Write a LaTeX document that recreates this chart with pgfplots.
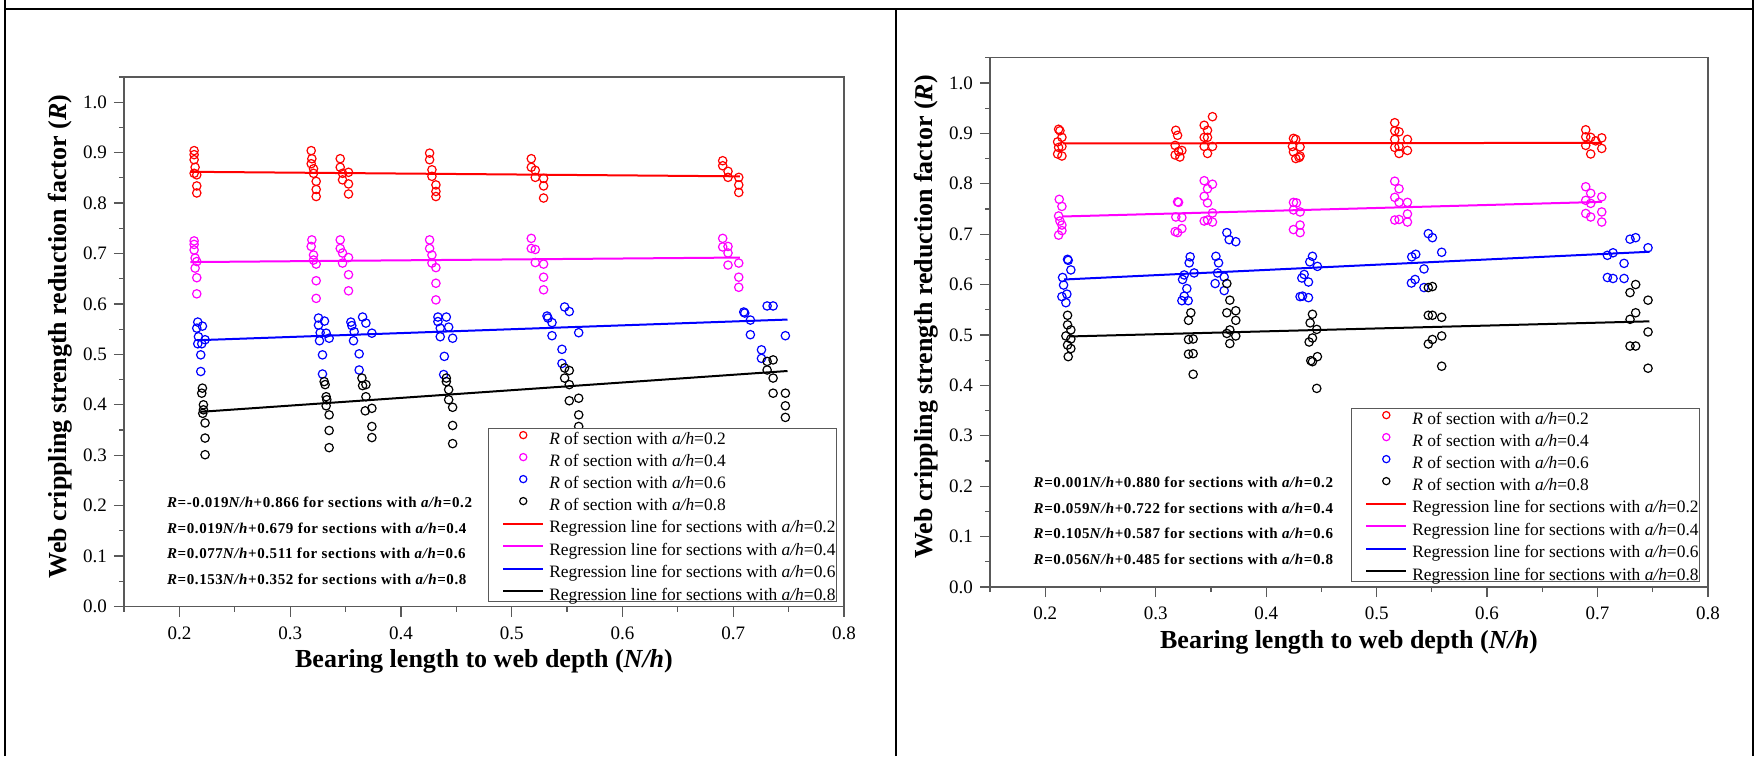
\documentclass[border=0pt]{standalone}
\usepackage{fontspec}
\setmainfont{Liberation Serif}
\newfontfamily\eqfont{Liberation Serif}[LetterSpace=4]
\usepackage{pgfplots}
\pgfplotsset{compat=1.18}
\definecolor{axisgray}{HTML}{595959}
\definecolor{cMag}{HTML}{FF00FF}

\pgfplotsset{
  panel/.style={
    scale only axis,
    xmin=0.15, xmax=0.8, ymin=0, ymax=1.05,
    xtick={0.2,0.3,0.4,0.5,0.6,0.7,0.8},
    ytick={0,0.1,0.2,0.3,0.4,0.5,0.6,0.7,0.8,0.9,1.0},
    minor xtick={0.15,0.25,0.35,0.45,0.55,0.65,0.75},
    minor ytick={0.05,0.15,0.25,0.35,0.45,0.55,0.65,0.75,0.85,0.95,1.05},
    tick align=outside, xtick pos=left, ytick pos=left,
    major tick length=5pt, minor tick length=2.5pt,
    tick style={axisgray, line width=0.6pt},
    axis line style={draw=axisgray, line width=0.6pt},
    tick label style={font=\fontsize{9.5}{10}\selectfont},
    xticklabel style={yshift=-1.5pt},
    /pgf/number format/fixed, /pgf/number format/fixed zerofill,
    /pgf/number format/precision=1, /pgf/number format/assume math mode=true,
    every axis x label/.style={at={(axis description cs:0.5,-0.104)}, anchor=center,
      font=\fontsize{13}{15}\selectfont\bfseries},
    every axis y label/.style={at={(axis description cs:-0.089,0.51)}, anchor=center, rotate=90,
      font=\fontsize{13}{15}\selectfont\bfseries},
    xlabel={Bearing length to web depth (\textit{N/h})},
    ylabel={Web crippling strength reduction factor (\textit{R})},
    legend cell align=left,
    legend image code/.code={
      \path (0pt,-1.8pt) (27pt,6.4pt);
      \draw[mark repeat=2,mark phase=2,##1,mark size=1.8pt] plot coordinates {(6.5pt,2.3pt)(16.5pt,2.3pt)(26.5pt,2.3pt)};},
    legend style={draw=axisgray, line width=0.5pt, fill=white,
      inner xsep=0.5pt, inner ysep=-1.2pt, row sep=0.25pt, column sep=2pt,
      font=\fontsize{8.7}{10}\selectfont,
      nodes={inner sep=0pt, text height=6.4pt, text depth=1.8pt}},
  },
  pts/.style={only marks, mark=o, mark size=2.1pt, mark options={line width=0.6pt}},
  reg/.style={no marks, line width=1pt},
}

\newcommand{\eq}[1]{{\eqfont\bfseries\fontsize{7.5}{9}\selectfont #1}}
\tikzset{eqn/.style={anchor=base west, inner sep=0pt}}

\begin{document}
\begin{tikzpicture}
\useasboundingbox (0,0) rectangle (877.5pt,378pt);
\draw[line width=1pt] (2.5pt,0) -- (2.5pt,378pt);
\draw[line width=1pt] (2.5pt,373.25pt) -- (876.35pt,373.25pt);
\draw[line width=1pt] (448pt,0) -- (448pt,373.25pt);
\draw[line width=1pt] (876.35pt,0) -- (876.35pt,378pt);

% left panel
\begin{axis}[panel, at={(62pt,74.75pt)}, anchor=south west, width=360pt, height=264.75pt,
  legend style={at={(axis description cs:0.9903,0.0085)}, anchor=south east}]
\addplot[pts, red] coordinates {
 (0.2133,0.904)(0.2133,0.896)(0.2133,0.886)(0.2142,0.871)(0.2133,0.859)(0.2157,0.856)(0.2157,0.834)(0.2157,0.820)
 (0.3190,0.904)(0.3196,0.888)(0.3190,0.878)(0.3211,0.859)(0.3235,0.843)(0.3235,0.827)(0.3235,0.813)(0.3211,0.868)
 (0.3452,0.888)(0.3452,0.871)(0.3473,0.859)(0.3527,0.861)(0.3473,0.846)(0.3527,0.838)(0.3527,0.818)
 (0.4259,0.899)(0.4259,0.886)(0.4280,0.866)(0.4280,0.853)(0.4316,0.836)(0.4316,0.823)(0.4316,0.813)
 (0.5177,0.888)(0.5177,0.871)(0.5213,0.865)(0.5213,0.851)(0.5288,0.849)(0.5288,0.834)(0.5288,0.810)
 (0.6905,0.884)(0.6905,0.874)(0.6953,0.863)(0.6953,0.851)(0.7050,0.851)(0.7050,0.836)(0.7050,0.821)};
\addlegendentry{\textit{R} of section with \textit{a/h}=0.2}
\addplot[pts, cMag] coordinates {
 (0.2133,0.725)(0.2133,0.718)(0.2133,0.707)(0.2142,0.691)(0.2157,0.684)(0.2142,0.671)(0.2157,0.652)(0.2157,0.620)
 (0.3196,0.727)(0.3190,0.714)(0.3211,0.697)(0.3211,0.687)(0.3235,0.679)(0.3235,0.646)(0.3235,0.611)
 (0.3452,0.727)(0.3452,0.710)(0.3473,0.701)(0.3473,0.681)(0.3527,0.692)(0.3527,0.658)(0.3527,0.626)
 (0.4259,0.727)(0.4259,0.710)(0.4280,0.697)(0.4280,0.681)(0.4316,0.672)(0.4316,0.641)(0.4316,0.608)
 (0.5177,0.730)(0.5177,0.710)(0.5213,0.708)(0.5213,0.682)(0.5288,0.679)(0.5288,0.653)(0.5288,0.628)
 (0.6905,0.730)(0.6905,0.713)(0.6953,0.714)(0.6953,0.701)(0.6953,0.677)(0.7050,0.681)(0.7050,0.653)(0.7050,0.633)};
\addlegendentry{\textit{R} of section with \textit{a/h}=0.4}
\addplot[pts, blue] coordinates {
 (0.2166,0.564)(0.2208,0.556)(0.2157,0.552)(0.2172,0.535)(0.2232,0.529)(0.2166,0.521)(0.2202,0.521)(0.2193,0.499)(0.2193,0.466)
 (0.3256,0.572)(0.3310,0.566)(0.3256,0.558)(0.3271,0.543)(0.3325,0.542)(0.3265,0.527)(0.3352,0.532)(0.3292,0.499)(0.3292,0.461)
 (0.3548,0.564)(0.3557,0.557)(0.3578,0.545)(0.3572,0.527)(0.3654,0.574)(0.3684,0.562)(0.3738,0.542)(0.3623,0.501)(0.3623,0.469)
 (0.4334,0.574)(0.4410,0.574)(0.4334,0.565)(0.4355,0.552)(0.4431,0.554)(0.4355,0.535)(0.4467,0.532)(0.4392,0.496)(0.4386,0.460)
 (0.5319,0.576)(0.5328,0.572)(0.5364,0.563)(0.5364,0.537)(0.5478,0.594)(0.5520,0.585)(0.5605,0.543)(0.5454,0.510)(0.5454,0.482)
 (0.7095,0.584)(0.7104,0.582)(0.7155,0.568)(0.7155,0.539)(0.7306,0.596)(0.7360,0.596)(0.7471,0.537)(0.7255,0.509)(0.7255,0.492)};
\addlegendentry{\textit{R} of section with \textit{a/h}=0.6}
\addplot[pts, black] coordinates {
 (0.2208,0.433)(0.2202,0.423)(0.2217,0.400)(0.2217,0.390)(0.2211,0.383)(0.2232,0.364)(0.2232,0.334)(0.2232,0.301)
 (0.3307,0.446)(0.3316,0.440)(0.3325,0.416)(0.3331,0.410)(0.3325,0.398)(0.3352,0.380)(0.3352,0.349)(0.3352,0.315)
 (0.3648,0.453)(0.3654,0.438)(0.3684,0.440)(0.3684,0.416)(0.3678,0.388)(0.3738,0.393)(0.3738,0.357)(0.3738,0.335)
 (0.4410,0.453)(0.4410,0.446)(0.4431,0.430)(0.4431,0.410)(0.4467,0.395)(0.4467,0.359)(0.4467,0.323)
 (0.5478,0.473)(0.5520,0.468)(0.5478,0.453)(0.5520,0.440)(0.5520,0.408)(0.5605,0.413)(0.5605,0.380)(0.5605,0.357)
 (0.7306,0.486)(0.7360,0.489)(0.7306,0.469)(0.7360,0.453)(0.7360,0.423)(0.7471,0.423)(0.7471,0.398)(0.7471,0.375)};
\addlegendentry{\textit{R} of section with \textit{a/h}=0.8}
\addplot[reg, red] coordinates {(0.210,0.862)(0.706,0.853)};
\addlegendentry{Regression line for sections with \textit{a/h}=0.2}
\addplot[reg, cMag] coordinates {(0.210,0.683)(0.706,0.692)};
\addlegendentry{Regression line for sections with \textit{a/h}=0.4}
\addplot[reg, blue] coordinates {(0.216,0.528)(0.749,0.569)};
\addlegendentry{Regression line for sections with \textit{a/h}=0.6}
\addplot[reg, black] coordinates {(0.219,0.386)(0.749,0.467)};
\addlegendentry{Regression line for sections with \textit{a/h}=0.8}
\node[eqn] at (rel axis cs:0.0593,0.1866) {\eq{\textit{R}=-0.019\textit{N/h}+0.866 for sections with \textit{a/h}=0.2}};
\node[eqn] at (rel axis cs:0.0593,0.1383) {\eq{\textit{R}=0.019\textit{N/h}+0.679 for sections with \textit{a/h}=0.4}};
\node[eqn] at (rel axis cs:0.0593,0.0911) {\eq{\textit{R}=0.077\textit{N/h}+0.511 for sections with \textit{a/h}=0.6}};
\node[eqn] at (rel axis cs:0.0593,0.0420) {\eq{\textit{R}=0.153\textit{N/h}+0.352 for sections with \textit{a/h}=0.8}};
\end{axis}

% right panel
\begin{axis}[panel, at={(495pt,84.5pt)}, anchor=south west, width=359pt, height=264.65pt,
  legend style={at={(axis description cs:0.9889,0.0094)}, anchor=south east}]
\addplot[pts, red] coordinates {
 (0.2121,0.908)(0.2133,0.905)(0.2151,0.892)(0.2112,0.883)(0.2151,0.874)(0.2121,0.872)(0.2112,0.859)(0.2151,0.855)
 (0.3182,0.906)(0.3198,0.896)(0.3176,0.876)(0.3207,0.864)(0.3237,0.866)(0.3176,0.857)(0.3219,0.853)
 (0.3514,0.933)(0.3439,0.916)(0.3469,0.906)(0.3439,0.892)(0.3469,0.892)(0.3439,0.874)(0.3514,0.874)(0.3469,0.860)
 (0.4247,0.890)(0.4268,0.888)(0.4238,0.874)(0.4307,0.873)(0.4247,0.863)(0.4307,0.855)(0.4268,0.850)(0.4298,0.852)
 (0.5164,0.921)(0.5164,0.905)(0.5203,0.903)(0.5164,0.888)(0.5279,0.888)(0.5203,0.874)(0.5164,0.872)(0.5279,0.866)(0.5203,0.860)
 (0.6893,0.907)(0.6938,0.892)(0.7038,0.891)(0.6893,0.893)(0.6983,0.885)(0.6893,0.876)(0.7038,0.870)(0.6938,0.859)};
\addlegendentry{\textit{R} of section with \textit{a/h}=0.2}
\addplot[pts, cMag] coordinates {
 (0.2127,0.769)(0.2151,0.755)(0.2121,0.736)(0.2133,0.726)(0.2151,0.718)(0.2151,0.707)(0.2121,0.698)
 (0.3198,0.764)(0.3207,0.763)(0.3182,0.734)(0.3237,0.733)(0.3176,0.705)(0.3198,0.703)(0.3237,0.711)
 (0.3439,0.806)(0.3514,0.799)(0.3469,0.790)(0.3439,0.775)(0.3469,0.762)(0.3514,0.742)(0.3439,0.726)(0.3514,0.724)(0.3469,0.728)
 (0.4247,0.763)(0.4274,0.762)(0.4247,0.748)(0.4307,0.744)(0.4307,0.718)(0.4247,0.709)(0.4307,0.703)
 (0.5164,0.805)(0.5203,0.790)(0.5164,0.773)(0.5203,0.763)(0.5279,0.763)(0.5279,0.740)(0.5164,0.728)(0.5203,0.729)(0.5279,0.724)
 (0.6893,0.794)(0.6938,0.781)(0.7038,0.774)(0.6893,0.767)(0.6938,0.761)(0.7038,0.744)(0.6893,0.741)(0.6938,0.734)(0.7038,0.724)};
\addlegendentry{\textit{R} of section with \textit{a/h}=0.4}
\addplot[pts, blue] coordinates {
 (0.2202,0.650)(0.2208,0.648)(0.2232,0.629)(0.2157,0.614)(0.2166,0.599)(0.2151,0.576)(0.2196,0.581)(0.2187,0.564)
 (0.3312,0.655)(0.3303,0.643)(0.3258,0.619)(0.3348,0.623)(0.3243,0.610)(0.3282,0.592)(0.3258,0.577)(0.3237,0.568)(0.3294,0.568)
 (0.3545,0.656)(0.3569,0.643)(0.3560,0.623)(0.3538,0.602)(0.3644,0.703)(0.3665,0.689)(0.3725,0.685)(0.3620,0.588)(0.3620,0.615)
 (0.4419,0.656)(0.4395,0.645)(0.4464,0.636)(0.4344,0.620)(0.4323,0.613)(0.4383,0.605)(0.4329,0.577)(0.4383,0.574)(0.4307,0.576)
 (0.5468,0.701)(0.5505,0.693)(0.5589,0.664)(0.5354,0.660)(0.5318,0.655)(0.5429,0.631)(0.5348,0.610)(0.5315,0.603)(0.5429,0.594)
 (0.7294,0.690)(0.7345,0.693)(0.7457,0.673)(0.7089,0.658)(0.7140,0.663)(0.7240,0.642)(0.7089,0.614)(0.7140,0.612)(0.7240,0.612)};
\addlegendentry{\textit{R} of section with \textit{a/h}=0.6}
\addplot[pts, black] coordinates {
 (0.2202,0.539)(0.2202,0.520)(0.2232,0.510)(0.2187,0.498)(0.2232,0.492)(0.2202,0.480)(0.2232,0.473)(0.2208,0.457)
 (0.3318,0.544)(0.3297,0.529)(0.3297,0.491)(0.3339,0.492)(0.3297,0.462)(0.3339,0.463)(0.3339,0.422)
 (0.3644,0.602)(0.3671,0.569)(0.3644,0.544)(0.3725,0.548)(0.3725,0.529)(0.3671,0.510)(0.3644,0.503)(0.3725,0.498)(0.3671,0.483)
 (0.4419,0.541)(0.4398,0.524)(0.4458,0.511)(0.4419,0.494)(0.4389,0.486)(0.4464,0.457)(0.4404,0.449)(0.4419,0.447)(0.4458,0.394)
 (0.5468,0.594)(0.5505,0.596)(0.5468,0.539)(0.5505,0.539)(0.5589,0.535)(0.5589,0.498)(0.5505,0.491)(0.5468,0.482)(0.5589,0.438)
 (0.7345,0.600)(0.7294,0.584)(0.7457,0.569)(0.7345,0.544)(0.7294,0.531)(0.7457,0.506)(0.7294,0.478)(0.7345,0.478)(0.7457,0.434)};
\addlegendentry{\textit{R} of section with \textit{a/h}=0.8}
\addplot[reg, red] coordinates {(0.216,0.880)(0.704,0.881)};
\addlegendentry{Regression line for sections with \textit{a/h}=0.2}
\addplot[reg, cMag] coordinates {(0.216,0.735)(0.704,0.764)};
\addlegendentry{Regression line for sections with \textit{a/h}=0.4}
\addplot[reg, blue] coordinates {(0.217,0.610)(0.747,0.665)};
\addlegendentry{Regression line for sections with \textit{a/h}=0.6}
\addplot[reg, black] coordinates {(0.222,0.497)(0.747,0.527)};
\addlegendentry{Regression line for sections with \textit{a/h}=0.8}
\node[eqn] at (rel axis cs:0.0603,0.1884) {\eq{\textit{R}=0.001\textit{N/h}+0.880 for sections with \textit{a/h}=0.2}};
\node[eqn] at (rel axis cs:0.0603,0.1392) {\eq{\textit{R}=0.059\textit{N/h}+0.722 for sections with \textit{a/h}=0.4}};
\node[eqn] at (rel axis cs:0.0603,0.0907) {\eq{\textit{R}=0.105\textit{N/h}+0.587 for sections with \textit{a/h}=0.6}};
\node[eqn] at (rel axis cs:0.0603,0.0429) {\eq{\textit{R}=0.056\textit{N/h}+0.485 for sections with \textit{a/h}=0.8}};
\end{axis}
\end{tikzpicture}
\end{document}
